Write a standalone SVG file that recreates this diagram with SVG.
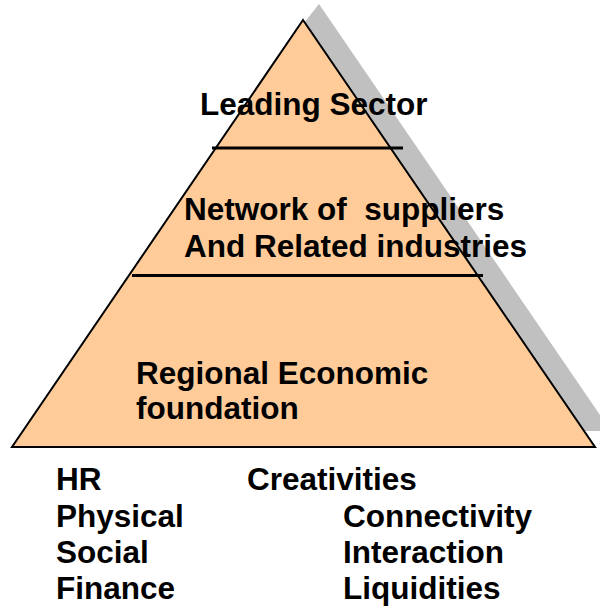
<svg xmlns="http://www.w3.org/2000/svg" width="600" height="610" viewBox="0 0 600 610">
<style>
  .t { font-family: "Liberation Sans", Arial, sans-serif; font-weight: bold; font-size: 31.5px; fill: #000; white-space: pre; }
  .div { stroke: #000; stroke-width: 3; fill: none; }
</style>
<rect width="600" height="610" fill="#ffffff"/>
<g id="pyramid">
  <polygon id="shadow" points="319,4 611,431 400,431 304,23" fill="#c0c0c0"/>
  <polygon id="triangle" points="303,20 12,447 595,447" fill="#ffcc99" stroke="#000" stroke-width="2" stroke-linejoin="miter"/>
</g>
<g id="connectors">
  <line class="div" x1="212" y1="148" x2="403" y2="148"/>
  <line class="div" x1="132" y1="275.5" x2="483" y2="275.5"/>
</g>
<g id="leading">
  <text class="t" x="200" y="115">Leading Sector</text>
</g>
<g id="network">
  <text class="t" x="184" y="220">Network of  suppliers</text>
  <text class="t" x="184" y="257">And Related industries</text>
</g>
<g id="foundation">
  <text class="t" x="136" y="384">Regional Economic</text>
  <text class="t" x="136" y="419">foundation</text>
</g>
<g id="factors">
  <text class="t" x="56" y="490">HR</text>
  <text class="t" x="56" y="527">Physical</text>
  <text class="t" x="56" y="563">Social</text>
  <text class="t" x="56" y="599">Finance</text>
  <text class="t" x="247" y="490">Creativities</text>
  <text class="t" x="343" y="527">Connectivity</text>
  <text class="t" x="343" y="563">Interaction</text>
  <text class="t" x="343" y="599">Liquidities</text>
</g>
</svg>
